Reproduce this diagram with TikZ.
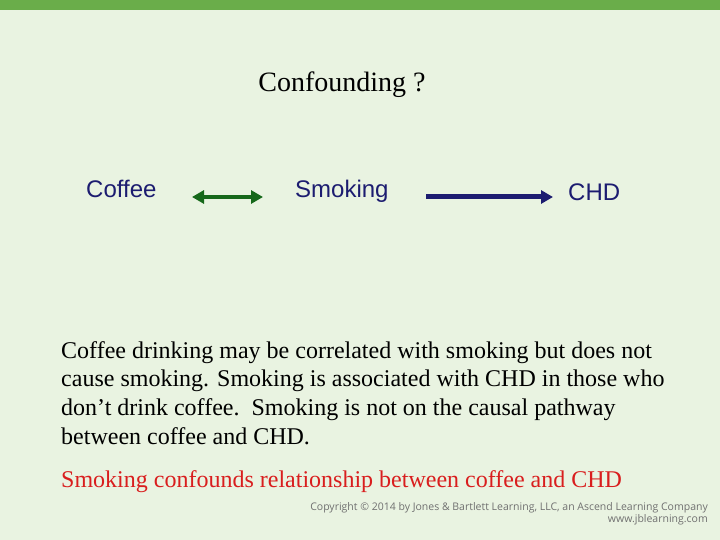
\documentclass[tikz,border=0pt]{standalone}
\usepackage{fontspec}
\setmainfont{Liberation Serif}
\newfontfamily\arialf{Liberation Sans}
\newfontfamily\copyf{Open Sans}
\usetikzlibrary{arrows.meta}
\definecolor{bgc}{HTML}{E9F3E1}
\definecolor{barc}{HTML}{6AAD4A}
\definecolor{navyc}{HTML}{1C1C70}
\definecolor{greenc}{HTML}{16681A}
\definecolor{redc}{HTML}{D91E1E}
\definecolor{grayc}{HTML}{707070}
\tikzset{
  lbl/.style={font=\arialf\fontsize{24}{28}\selectfont, text=navyc, inner sep=0pt, anchor=base west},
  body/.style={font=\fontsize{24}{28.7}\selectfont, inner sep=0pt, anchor=north west, align=left},
  cpy/.style={font=\copyf\fontsize{10.5}{12.5}\selectfont, text=grayc, inner sep=0pt, anchor=base east},
}
\begin{document}
\begin{tikzpicture}[x=1pt,y=-1pt]
\useasboundingbox (0,0) rectangle (720,540);
\fill[bgc] (0,0) rectangle (720,540);
\fill[barc] (0,0) rectangle (720,10);
\node[font=\fontsize{28}{32}\selectfont, inner sep=0pt, anchor=base] (title) at (342,92) {Confounding ?};
\node[lbl] (coffee) at (86,197) {Coffee};
\node[lbl] (smoking) at (295,197) {Smoking};
\node[lbl] (chd) at (568,201) {CHD};
\coordinate (g1) at (192,197);
\coordinate (g2) at (263,197);
\coordinate (n1) at (426,197);
\coordinate (n2) at (553,197);
\draw[greenc, line width=4pt, {Triangle[length=12pt,width=13pt]}-{Triangle[length=12pt,width=13pt]}] (g1) -- (g2);
\draw[navyc, line width=5pt, -{Triangle[length=12pt,width=13pt]}] (n1) -- (n2);
\node[body] (text) at (61,341) {Coffee drinking may be correlated with smoking but does not\\cause smoking. Smoking is associated with CHD in those who\\don’t drink coffee.\ \ Smoking is not on the causal pathway\\between coffee and CHD.};
\node[body, text=redc] (concl) at (61,470) {Smoking confounds relationship between coffee and CHD};
\node[cpy] (cp1) at (708,510) {Copyright © 2014 by Jones \& Bartlett Learning, LLC, an Ascend Learning Company};
\node[cpy] (cp2) at (708,522) {www.jblearning.com};
\end{tikzpicture}
\end{document}
